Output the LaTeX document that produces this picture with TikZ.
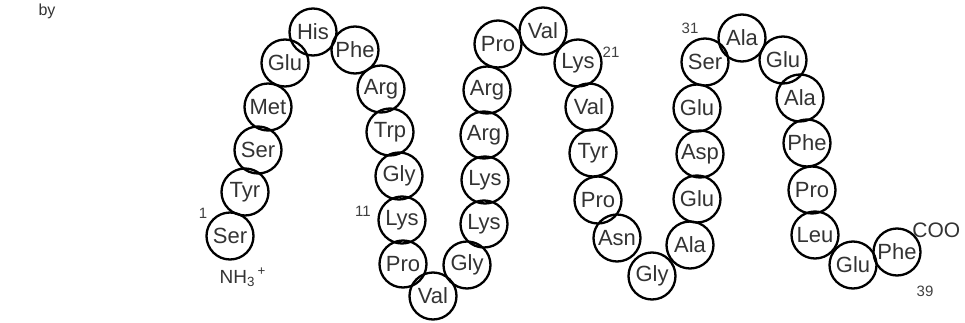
\documentclass[tikz,border=0pt]{standalone}
\usepackage{fontspec}
\setmainfont{Liberation Sans}
\usepackage{tikz}

\begin{document}
\begin{tikzpicture}[x=0.5pt,y=-0.5pt,
	res/.style={circle,draw,line width=1.15pt,minimum size=23.5pt,inner sep=0pt,
		text=black!80,font=\fontsize{11}{12}\selectfont},
	num/.style={inner sep=0pt,text=black!75,font=\fontsize{7.5}{9}\selectfont},
	term/.style={inner sep=0pt,text=black!80,font=\fontsize{9.5}{11}\selectfont}]
	\useasboundingbox (0,0) rectangle (965,322);

	% first strand, going up
	\node[res] (Ser1)  at (230,236) {Ser};
	\node[res] (Tyr2)  at (245,192) {Tyr};
	\node[res] (Ser3)  at (258,150) {Ser};
	\node[res] (Met4)  at (268,107) {Met};
	\node[res] (Glu5)  at (285,63)  {Glu};
	\node[res] (His6)  at (313,32)  {His};
	\node[res] (Phe7)  at (355,50)  {Phe};

	% first strand, going down
	\node[res] (Arg8)  at (381,89)  {Arg};
	\node[res] (Trp9)  at (390,132) {Trp};
	\node[res] (Gly10) at (399,176) {Gly};
	\node[res] (Lys11) at (402,220) {Lys};
	\node[res] (Pro12) at (403,264) {Pro};
	\node[res] (Val13) at (433,296) {Val};
	\node[res] (Gly14) at (467,265) {Gly};

	% second loop
	\node[res] (Lys15) at (484,224) {Lys};
	\node[res] (Lys16) at (485,180) {Lys};
	\node[res] (Arg17) at (484,135) {Arg};
	\node[res] (Arg18) at (487,90)  {Arg};
	\node[res] (Pro19) at (498,44)  {Pro};
	\node[res] (Val20) at (543,31)  {Val};
	\node[res] (Lys21) at (578,63)  {Lys};
	\node[res] (Val22) at (589,107) {Val};
	\node[res] (Tyr23) at (593,153) {Tyr};
	\node[res] (Pro24) at (598,200) {Pro};
	\node[res] (Asn25) at (617,238) {Asn};
	\node[res] (Gly26) at (652,276) {Gly};

	% third loop
	\node[res] (Ala27) at (690,245) {Ala};
	\node[res] (Glu28) at (697,199) {Glu};
	\node[res] (Asp29) at (700,154) {Asp};
	\node[res] (Glu30) at (697,108) {Glu};
	\node[res] (Ser31) at (705,62)  {Ser};
	\node[res] (Ala32) at (742,38)  {Ala};
	\node[res] (Glu33) at (783,60)  {Glu};
	\node[res] (Ala34) at (800,98)  {Ala};
	\node[res] (Phe35) at (807,143) {Phe};
	\node[res] (Pro36) at (812,190) {Pro};
	\node[res] (Leu37) at (815,235) {Leu};
	\node[res] (Glu38) at (853,265) {Glu};
	\node[res] (Phe39) at (897,252) {Phe};

	% numbering and ends
	\node[num] (n1)  at (203,213) {1};
	\node[num] (n11) at (363,211) {11};
	\node[num] (n21) at (611,52)  {21};
	\node[num] (n31) at (690,28)  {31};
	\node[num] (n39) at (925,291) {39};
	\node[term] (nterm) at (243,277) {NH\textsubscript{3}\textsuperscript{\,+}};
	\node[term,font=\fontsize{10.5}{12}\selectfont,anchor=west] (cterm) at (912,230) {COO};
	\node[term,font=\fontsize{8}{9}\selectfont,anchor=base] (tag) at (47,15) {by};
\end{tikzpicture}
\end{document}
